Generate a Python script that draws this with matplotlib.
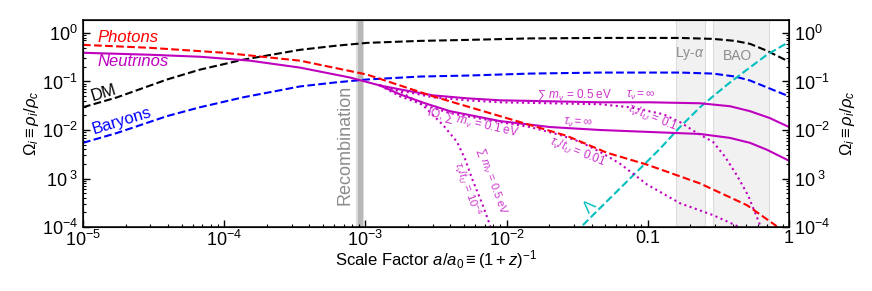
import matplotlib
matplotlib.use("Agg")
import matplotlib.pyplot as plt
from matplotlib.ticker import NullFormatter
import numpy as np

plt.rcParams['font.family'] = ['Liberation Sans', 'DejaVu Sans']
plt.rcParams['mathtext.fontset'] = 'custom'
plt.rcParams['mathtext.rm'] = 'Liberation Sans'
plt.rcParams['mathtext.it'] = 'Liberation Sans:italic'
plt.rcParams['mathtext.bf'] = 'Liberation Sans:bold'

# --- data (log10 a, log10 Omega) ---
photon_la = [-5.0, -4.525, -4.001, -3.463, -2.989, -2.521, -2.047, -1.572, -1.289, -1.006, -0.630, -0.297, -0.099, -0.05]
photon_lo = [-0.245, -0.306, -0.408, -0.571, -0.857, -1.306, -1.714, -2.122, -2.469, -2.714, -3.102, -3.551, -3.959, -4.1]

dm_la = [-5.0, -4.759, -4.405, -4.171, -3.867, -3.463, -3.215, -2.989, -2.613, -2.280, -1.834, -1.339, -0.772, -0.538, -0.382, -0.276, -0.156, 0.0]
dm_lo = [-1.531, -1.327, -0.959, -0.755, -0.551, -0.347, -0.265, -0.204, -0.163, -0.143, -0.112, -0.102, -0.102, -0.122, -0.163, -0.224, -0.367, -0.592]

bar_la = dm_la
bar_lo = [-2.265, -2.061, -1.714, -1.531, -1.327, -1.102, -1.020, -0.959, -0.898, -0.878, -0.837, -0.816, -0.816, -0.837, -0.898, -0.980, -1.122, -1.306]

lam_la = [-1.516, -1.459, -1.339, -1.197, -1.055, -0.914, -0.772, -0.630, -0.538, -0.418, -0.297, -0.156, 0.0]
lam_lo = [-4.122, -3.959, -3.612, -3.204, -2.796, -2.388, -1.939, -1.531, -1.306, -1.020, -0.755, -0.449, -0.184]

# common neutrino trunk
nu_la = [-5.0, -4.525, -4.171, -3.817, -3.463, -3.109, -2.897]
nu_lo = [-0.408, -0.449, -0.490, -0.571, -0.714, -0.918, -1.082]

# sum m = 0.5 eV, tau = inf
nu05_la = [-2.755, -2.521, -2.280, -2.047, -1.693, -1.339, -0.984, -0.630, -0.418, -0.276, -0.135, 0.0]
nu05_lo = [-1.163, -1.286, -1.347, -1.388, -1.408, -1.429, -1.429, -1.449, -1.510, -1.612, -1.755, -1.939]

# sum m = 0.5 eV, tau/tU = 0.1
nu05d_la = [-2.755, -2.521, -2.280, -2.047, -1.693, -1.339, -1.126, -0.892, -0.772, -0.652, -0.538, -0.453, -0.368, -0.290, -0.205, -0.170]
nu05d_lo = [-1.184, -1.327, -1.388, -1.429, -1.449, -1.469, -1.531, -1.673, -1.837, -2.061, -2.245, -2.551, -2.939, -3.347, -3.959, -4.224]

# IO, sum m = 0.1 eV, tau = inf
nu01_la = [-2.755, -2.578, -2.401, -2.047, -1.693, -1.339, -0.984, -0.630, -0.418, -0.276, -0.156, 0.0]
nu01_lo = [-1.265, -1.449, -1.612, -1.816, -1.939, -2.000, -2.041, -2.082, -2.163, -2.265, -2.408, -2.633]

# IO, sum m = 0.1 eV, tau/tU = 0.01
nu01d_la = [-2.755, -2.578, -2.401, -2.047, -1.834, -1.622, -1.480, -1.339, -1.197, -1.006, -0.772, -0.538, -0.382, -0.312]
nu01d_lo = [-1.306, -1.490, -1.653, -1.837, -1.939, -2.102, -2.245, -2.449, -2.694, -3.122, -3.510, -3.755, -3.959, -4.061]

# sum m = 0.5 eV, tau/tU = 1e-4
nufast_la = [-2.755, -2.592, -2.450, -2.351, -2.295, -2.245, -2.174, -2.118, -2.096]
nufast_lo = [-1.204, -1.490, -1.898, -2.245, -2.592, -3.000, -3.510, -3.959, -4.163]

recomb_band = (8.8e-4, 9.6e-4)
lya_band = (0.158, 0.254)
bao_band = (0.288, 0.72)

xticks = [1e-5, 1e-4, 1e-3, 1e-2, 0.1, 1]
xticklabels = ['$10^{-5}$', '$10^{-4}$', '$10^{-3}$', '$10^{-2}$', '0.1', '1']
yticks = [1, 0.1, 0.01, 1e-3, 1e-4]
yticklabels = ['$10^{0}$', '$10^{-1}$', '$10^{-2}$', '$10^{\\ 3}$', '$10^{-4}$']


def p(la, lo):
    return 10 ** np.array(la), 10 ** np.array(lo)


fig = plt.figure(figsize=(8.72, 2.91), dpi=100)
ax = fig.add_axes([0.0952, 0.2199, 0.8096, 0.7113])

red = '#ff0000'
mag = '#bf00bf'
magt = '#cc33cc'
blue = '#0000ff'
cyan = '#00bfbf'

# shaded regions
ax.axvspan(8.6e-4, 9.8e-4, color='#dcdcdc', lw=0, zorder=0)
ax.axvspan(*recomb_band, color='#b8b8b8', lw=0, zorder=0)
ax.axvspan(*lya_band, facecolor='#f1f1f1', edgecolor='#dddddd', lw=0.8, zorder=0)
ax.axvspan(*bao_band, facecolor='#f1f1f1', edgecolor='#dddddd', lw=0.8, zorder=0)

lw = 1.5
ax.plot(*p(dm_la, dm_lo), '--', color='k', lw=lw)
ax.plot(*p(bar_la, bar_lo), '--', color=blue, lw=lw)
ax.plot(*p(lam_la, lam_lo), '--', color=cyan, lw=lw)

ax.plot(*p(nu_la, nu_lo), '-', color=mag, lw=lw)
ax.plot(*p(nu_la[-1:] + nu05_la, nu_lo[-1:] + nu05_lo), '-', color=mag, lw=lw)
ax.plot(*p(nu_la[-1:] + nu01_la, nu_lo[-1:] + nu01_lo), '-', color=mag, lw=lw)
ax.plot(*p(nu_la[-1:] + nu05d_la, nu_lo[-1:] + nu05d_lo), ':', color=mag, lw=lw)
ax.plot(*p(nu_la[-1:] + nu01d_la, nu_lo[-1:] + nu01d_lo), ':', color=mag, lw=lw)
ax.plot(*p(nu_la[-1:] + nufast_la, nu_lo[-1:] + nufast_lo), ':', color=mag, lw=lw)

ax.plot(*p(photon_la, photon_lo), '--', color=red, lw=lw)

ax.set_xscale('log')
ax.set_yscale('log')
ax.set_xlim(1e-5, 1)
ax.set_ylim(1e-4, 1.85)

ax.set_xticks(xticks)
ax.set_xticklabels(xticklabels)
ax.set_yticks(yticks)
ax.set_yticklabels(yticklabels)
ax.xaxis.set_minor_formatter(NullFormatter())
ax.yaxis.set_minor_formatter(NullFormatter())
ax.tick_params(which='both', direction='in', labelsize=13, top=False, right=False)
ax.tick_params(which='major', length=5, width=1)
ax.tick_params(which='minor', length=2.5, width=0.8)
ax.tick_params(axis='x', pad=2)
for s in ax.spines.values():
    s.set_linewidth(1.1)

ax2 = ax.twinx()
ax2.set_yscale('log')
ax2.set_ylim(ax.get_ylim())
ax2.set_yticks(yticks)
ax2.set_yticklabels(yticklabels)
ax2.yaxis.set_minor_formatter(NullFormatter())
ax2.tick_params(which='both', direction='in', labelsize=13)
ax2.tick_params(which='major', length=5, width=1)
ax2.tick_params(which='minor', length=2.5, width=0.8)
ax2.set_ylabel(r'$\Omega_i \equiv \rho_i/\rho_c$', fontsize=12, rotation=90, labelpad=6)

ax.set_xlabel(r'Scale Factor $a/a_0 \equiv (1+z)^{-1}$', fontsize=12, labelpad=-1)
ax.set_ylabel(r'$\Omega_i \equiv \rho_i/\rho_c$', fontsize=12, labelpad=1)

# labels
ax.text(1.26e-5, 0.79, 'Photons', color=red, fontsize=12, style='italic', va='center')
ax.text(1.26e-5, 0.256, 'Neutrinos', color=mag, fontsize=12, style='italic', va='center')
ax.text(1.41e-5, 0.0569, 'DM', color='k', fontsize=12, rotation=17, ha='center', va='center')
ax.text(1.89e-5, 0.0153, 'Baryons', color=blue, fontsize=12, rotation=17, ha='center', va='center')
ax.text(7.18e-4, 4.94e-3, 'Recombination', color='#8c8c8c', fontsize=13, rotation=90, ha='center', va='center')
ax.text(0.199, 0.373, r'Ly-$\alpha$', color='#8c8c8c', fontsize=10, ha='center', va='center')
ax.text(0.435, 0.34, 'BAO', color='#8c8c8c', fontsize=10, ha='center', va='center')
ax.text(0.0389, 2.68e-4, r'$\Lambda$', color=cyan, fontsize=12, rotation=45, ha='center', va='center')

fs = 8.5
ax.text(0.0305, 0.0518, r'$\sum\ m_\nu$ = 0.5 eV', color=magt, fontsize=fs, ha='center', va='center')
ax.text(0.0895, 0.0518, r'$\tau_\nu = \infty$', color=magt, fontsize=fs, ha='center', va='center')
ax.text(5.78e-3, 0.0139, r'IO, $\sum\ m_\nu$ = 0.1 eV', color=magt, fontsize=fs, rotation=-13, ha='center', va='center')
ax.text(0.032, 0.0139, r'$\tau_\nu = \infty$', color=magt, fontsize=fs, rotation=-3, ha='center', va='center')
ax.text(0.0316, 3.56e-3, r'$\tau_\nu/t_U$ = 0.01', color=magt, fontsize=fs, rotation=-22, ha='center', va='center')
ax.text(0.107, 0.0176, r'$\tau_\nu/t_U$ = 0.1', color=magt, fontsize=fs, rotation=-22, ha='center', va='center')
ax.text(7.89e-3, 8.7e-4, r'$\sum\ m_\nu$ = 0.5 eV', color=magt, fontsize=fs - 0.5, rotation=-70, ha='center', va='center')
ax.text(5.25e-3, 6.25e-4, r'$\tau_\nu/t_U$ = $10^{-4}$', color=magt, fontsize=fs - 0.5, rotation=-70, ha='center', va='center')

fig.savefig('out.png', dpi=100)
